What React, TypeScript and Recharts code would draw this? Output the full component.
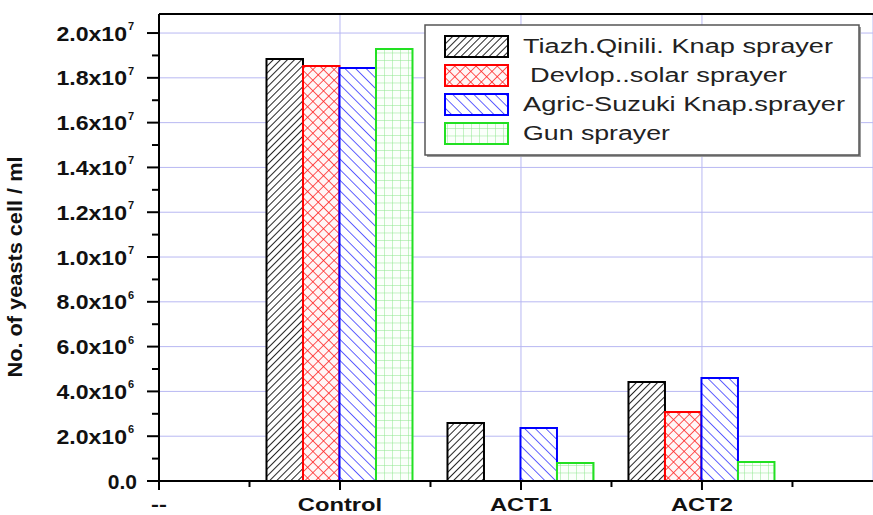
import React from 'react';
import { BarChart, Bar, XAxis, YAxis, CartesianGrid, Legend, ReferenceLine } from 'recharts';

const CATEGORIES = ['Control', 'ACT1', 'ACT2'];
const TICK_LABELS = ['--', 'Control', 'ACT1', 'ACT2'];
const SERIES_NAMES = ['Tiazh.Qinili. Knap sprayer', ' Devlop..solar sprayer', 'Agric-Suzuki Knap.sprayer', 'Gun sprayer'];

const TIAZH = [18840000, 2590000, 4420000];
const DEVLOP = [18530000, 0, 3080000];
const AGRIC = [18440000, 2370000, 4600000];
const GUN = [19290000, 800000, 850000];

const Y_TICKS = [0, 2e6, 4e6, 6e6, 8e6, 1e7, 1.2e7, 1.4e7, 1.6e7, 1.8e7, 2e7];
const Y_MINOR = [1e6, 3e6, 5e6, 7e6, 9e6, 1.1e7, 1.3e7, 1.5e7, 1.7e7, 1.9e7];
const X_TICKS = [0, 1, 2, 3];
const X_MINOR = [0.5, 1.5, 2.5, 3.5];
const Y_MAX = 20850000;
const X_MAX = 3.945;

const FONT = 'Arial, "Liberation Sans", sans-serif';
const MARGIN = 2;

const data = CATEGORIES.map((c, i) => ({
  x: i + 1,
  name: c,
  tiazh: TIAZH[i],
  devlop: DEVLOP[i],
  agric: AGRIC[i],
  gun: GUN[i],
}));

const SERIES = [
  { key: 'tiazh', name: SERIES_NAMES[0], stroke: '#000000', pattern: 'pat-black', legendWidth: 310, legendX: 100 },
  { key: 'devlop', name: SERIES_NAMES[1], stroke: '#ff0000', pattern: 'pat-red', legendWidth: 257, legendX: 107 },
  { key: 'agric', name: SERIES_NAMES[2], stroke: '#0000ff', pattern: 'pat-blue', legendWidth: 322, legendX: 100 },
  { key: 'gun', name: SERIES_NAMES[3], stroke: '#22e022', pattern: 'pat-green', legendWidth: 147, legendX: 100 },
];

const Patterns = () => (
  <defs>
    <pattern id="pat-black" patternUnits="userSpaceOnUse" width={5} height={10} patternTransform="rotate(45)">
      <rect width={5} height={10} fill="#fff" />
      <line x1={0} y1={0} x2={0} y2={10} stroke="#000" strokeWidth={1.7} />
    </pattern>
    <pattern id="pat-red" patternUnits="userSpaceOnUse" width={7.5} height={7.5} patternTransform="rotate(45)">
      <rect width={7.5} height={7.5} fill="#fff6f6" />
      <line x1={0} y1={0} x2={0} y2={7.5} stroke="#ff2020" strokeWidth={1.5} />
      <line x1={0} y1={0} x2={7.5} y2={0} stroke="#ff2020" strokeWidth={1.5} />
    </pattern>
    <pattern id="pat-blue" patternUnits="userSpaceOnUse" width={7.5} height={10} patternTransform="rotate(-45)">
      <rect width={7.5} height={10} fill="#fff" />
      <line x1={0} y1={0} x2={0} y2={10} stroke="#2020ff" strokeWidth={1.4} />
    </pattern>
    <pattern id="pat-green" patternUnits="userSpaceOnUse" width={8} height={7.5}>
      <rect width={8} height={7.5} fill="#fbfffb" />
      <line x1={0} y1={0} x2={0} y2={7.5} stroke="#8ee88e" strokeWidth={1} />
      <line x1={0} y1={0} x2={8} y2={0} stroke="#8ee88e" strokeWidth={1} />
    </pattern>
  </defs>
);

// tick marks are drawn here, from the position the axis hands the tick
const XTick = (props: any) => {
  const { x, y, payload } = props;
  const label = TICK_LABELS[Math.round(payload.value)];
  return (
    <g>
      <line x1={x} x2={x} y1={y - MARGIN - 10} y2={y - MARGIN} stroke="#000" strokeWidth={2} />
      <g transform={`translate(${x},${y + 19}) scale(1.25,1)`}>
        <text textAnchor="middle" fontSize={19} fontWeight="bold" fontFamily={FONT} fill="#111">
          {label}
        </text>
      </g>
    </g>
  );
};

const XMinorTick = (props: any) => {
  const { x, y } = props;
  return <line x1={x} x2={x} y1={y - MARGIN - 6} y2={y - MARGIN} stroke="#000" strokeWidth={2} />;
};

const YTick = (props: any) => {
  const { x, y, payload } = props;
  const v = payload.value;
  const mark = <line x1={x + MARGIN} x2={x + MARGIN + 12} y1={y} y2={y} stroke="#000" strokeWidth={2} />;
  if (v === 0) {
    return (
      <g>
        {mark}
        <text x={x - 8} y={y + 7.5} textAnchor="end" fontSize={21} fontWeight="bold" fontFamily={FONT} fill="#111">
          0.0
        </text>
      </g>
    );
  }
  const exp = Math.floor(Math.log10(v) + 1e-9);
  const mant = (v / Math.pow(10, exp)).toFixed(1);
  return (
    <g>
      {mark}
      <g transform={`translate(${x - 18},${y + 7.5}) scale(1.1,1)`}>
        <text textAnchor="end" fontSize={21} fontWeight="bold" fontFamily={FONT} fill="#111">
          {mant}x10
        </text>
      </g>
      <text x={x - 17} y={y - 3} fontSize={11} fontWeight="bold" fontFamily={FONT} fill="#111">
        {exp}
      </text>
    </g>
  );
};

const YMinorTick = (props: any) => {
  const { x, y } = props;
  return <line x1={x + MARGIN} x2={x + MARGIN + 6} y1={y} y2={y} stroke="#000" strokeWidth={2} />;
};

const LegendBox = () => (
  <svg width={442} height={136}>
    <rect x={4} y={4} width={434} height={130} fill="#999" />
    <rect x={2} y={2} width={434} height={130} fill="#fff" stroke="#555" strokeWidth={1.5} />
    {SERIES.map((s, i) => (
      <g key={s.key}>
        <rect x={22} y={13 + i * 29} width={63} height={21} fill={`url(#${s.pattern})`} stroke={s.stroke} strokeWidth={2} />
        <text
          x={s.legendX}
          y={30 + i * 29}
          fontSize={20}
          fontFamily={FONT}
          fill="#222"
          textLength={s.legendWidth}
          lengthAdjust="spacingAndGlyphs"
        >
          {s.name}
        </text>
      </g>
    ))}
  </svg>
);

export default function App() {
  return (
    <div style={{ position: 'absolute', left: 0, top: 0, width: 873, height: 515, background: '#fff' }}>
      <BarChart
        width={873}
        height={515}
        data={data}
        margin={{ top: 14, right: 0, bottom: 32, left: 157 }}
        barGap={0}
        barSize={36.5}
      >
        <Patterns />
        <CartesianGrid stroke="#b8b8f2" strokeWidth={1} />
        <XAxis
          dataKey="x"
          type="number"
          domain={[0, X_MAX]}
          ticks={X_TICKS}
          height={1}
          tickSize={9}
          tickMargin={MARGIN}
          tick={<XTick />}
          axisLine={{ stroke: '#000', strokeWidth: 2 }}
          tickLine={false}
          allowDataOverflow
        />
        <XAxis
          xAxisId="minor"
          dataKey="x"
          type="number"
          domain={[0, X_MAX]}
          ticks={X_MINOR}
          height={1}
          tickSize={5}
          tickMargin={MARGIN}
          tick={<XMinorTick />}
          axisLine={false}
          tickLine={false}
          allowDataOverflow
        />
        <YAxis
          type="number"
          domain={[0, Y_MAX]}
          ticks={Y_TICKS}
          width={1}
          tickSize={12}
          tickMargin={MARGIN}
          tick={<YTick />}
          axisLine={{ stroke: '#000', strokeWidth: 2 }}
          tickLine={false}
          allowDataOverflow
        />
        <YAxis
          yAxisId="minor"
          type="number"
          domain={[0, Y_MAX]}
          ticks={Y_MINOR}
          width={1}
          tickSize={6}
          tickMargin={MARGIN}
          tick={<YMinorTick />}
          axisLine={false}
          tickLine={false}
          allowDataOverflow
        />
        <ReferenceLine y={Y_MAX} stroke="#000" strokeWidth={2} />
        {SERIES.map((s) => (
          <Bar
            key={s.key}
            dataKey={s.key}
            name={s.name}
            fill={`url(#${s.pattern})`}
            stroke={s.stroke}
            strokeWidth={2}
            isAnimationActive={false}
          />
        ))}
        <Legend
          layout="vertical"
          align="center"
          verticalAlign="middle"
          content={<LegendBox />}
          wrapperStyle={{ left: 423, top: 23, width: 442, height: 136 }}
        />
      </BarChart>
      <svg width={60} height={515} style={{ position: 'absolute', left: 0, top: 0, pointerEvents: 'none' }}>
        <text
          x={22}
          y={267}
          transform="rotate(-90, 22, 267)"
          textAnchor="middle"
          fontSize={21}
          fontWeight="bold"
          fontFamily={FONT}
          fill="#111"
          textLength={221}
          lengthAdjust="spacingAndGlyphs"
        >
          No. of yeasts cell / ml
        </text>
      </svg>
    </div>
  );
}
